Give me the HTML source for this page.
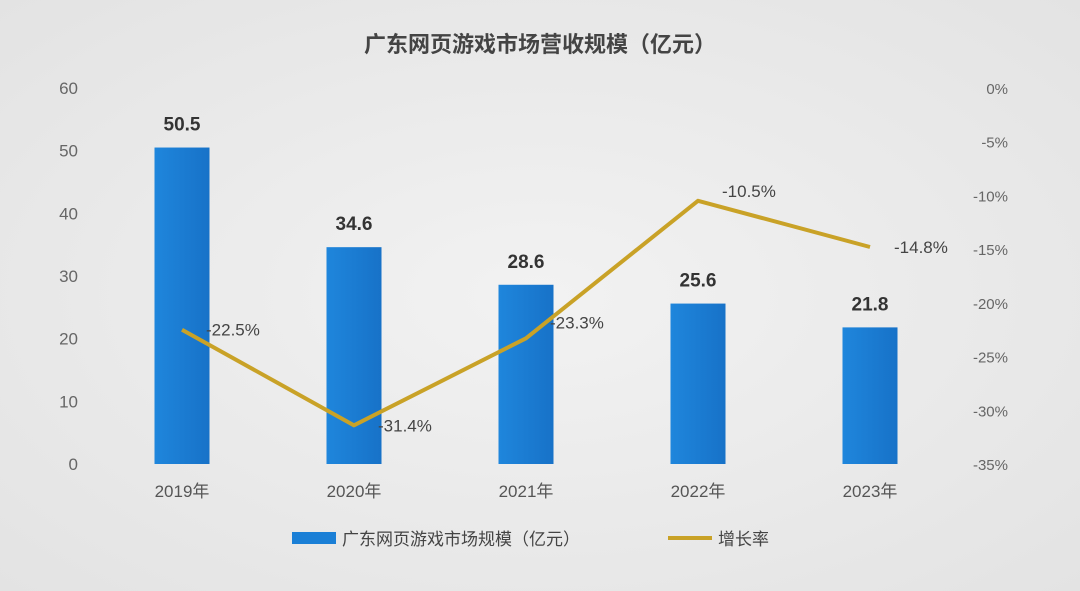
<!DOCTYPE html>
<html><head><meta charset="utf-8">
<style>
html,body{margin:0;padding:0;background:#ececec;}
svg{display:block;font-family:"Liberation Sans","Noto Sans CJK SC",sans-serif;}
</style></head>
<body>
<svg id="chart" width="1080" height="591" viewBox="0 0 1080 591">
<defs>
<radialGradient id="bg" cx="50%" cy="50%" r="75%">
<stop offset="0%" stop-color="#f2f2f2"/><stop offset="100%" stop-color="#e2e2e2"/>
</radialGradient>
<linearGradient id="barg" x1="0" x2="1" y1="0" y2="0">
<stop offset="0%" stop-color="#1f86dc"/><stop offset="100%" stop-color="#1772c8"/>
</linearGradient>
</defs>
<rect width="1080" height="591" fill="url(#bg)"/>
<text x="540" y="52" text-anchor="middle" font-size="22" font-weight="bold" fill="#444">广东网页游戏市场营收规模（亿元）</text>
<g id="axes"></g>
<g id="bars"></g>
<g id="line"></g>
<g>
<rect x="292" y="532" width="44" height="12" fill="#1a7fd6"/>
<text x="342" y="545" font-size="17" fill="#444">广东网页游戏市场规模（亿元）</text>
<line x1="668" y1="538" x2="712" y2="538" stroke="#c9a227" stroke-width="4"/>
<text x="718" y="545" font-size="17" fill="#444">增长率</text>
</g>
</svg>
<script>
const categories=["2019年","2020年","2021年","2022年","2023年"];
const revenue=[50.5,34.6,28.6,25.6,21.8];
const growth=[-22.5,-31.4,-23.3,-10.5,-14.8];
const leftTicks=[0,10,20,30,40,50,60];
const rightTicks=[0,-5,-10,-15,-20,-25,-30,-35];

const NS="http://www.w3.org/2000/svg";
const x0=96,x1=956,yTop=88,yBot=464;
const band=(x1-x0)/categories.length;
const xc=i=>x0+band*(i+0.5);
const yL=v=>yBot-(v/60)*(yBot-yTop);
const yR=v=>yTop+(-v/35)*(yBot-yTop);
function mk(tag,attrs,parent,txt){const e=document.createElementNS(NS,tag);for(const k in attrs)e.setAttribute(k,attrs[k]);if(txt!==undefined)e.textContent=txt;parent.appendChild(e);return e;}
const axes=document.getElementById('axes'),bars=document.getElementById('bars'),line=document.getElementById('line');

leftTicks.forEach(t=>{const e=mk('text',{x:78,y:yL(t)+6,'text-anchor':'end','font-size':17,fill:'#666'},axes,String(t));

});
rightTicks.forEach(t=>{const e=mk('text',{x:1008,y:yR(t)+6,'text-anchor':'end','font-size':15,fill:'#666'},axes,t+'%');

});
categories.forEach((c,i)=>{const e=mk('text',{x:xc(i),y:497,'text-anchor':'middle','font-size':17,fill:'#555'},axes,c);

});

const bw=55;
revenue.forEach((v,i)=>{
const r=mk('rect',{x:xc(i)-bw/2,y:yL(v),width:bw,height:yBot-yL(v),fill:'url(#barg)'},bars);


const t=mk('text',{x:xc(i),y:yL(v)-17,'text-anchor':'middle','font-size':19,'font-weight':'bold',fill:'#333'},bars,v.toFixed(1));


});

const pts=growth.map((g,i)=>xc(i)+','+yR(g)).join(' ');
const pl=mk('polyline',{points:pts,fill:'none',stroke:'#c9a227','stroke-width':4,'stroke-linejoin':'round'},line);


growth.forEach((g,i)=>{
const dy=(i===2)?-10:(i===3?-4:6);
const t=mk('text',{x:xc(i)+24,y:yR(g)+dy,'font-size':17,fill:'#444'},line,'-'+Math.abs(g).toFixed(1)+'%');


});
</script>
</body></html>
